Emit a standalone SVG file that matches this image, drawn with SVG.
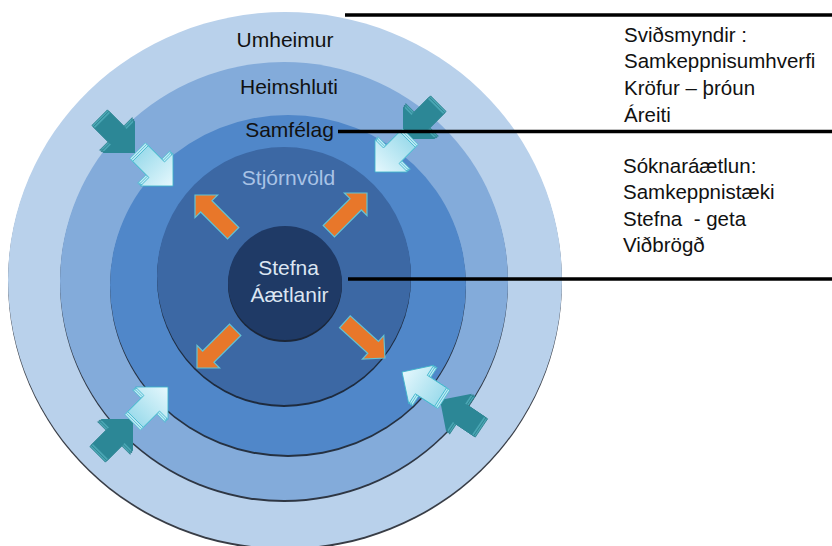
<svg xmlns="http://www.w3.org/2000/svg" width="832" height="546" viewBox="0 0 832 546">
<style>
  .sh { fill: #151b26; opacity: 0.85; }
  .lbl { font-family: "Liberation Sans", Arial, sans-serif; font-size: 21px; text-anchor: middle; }
  .side { font-family: "Liberation Sans", Arial, sans-serif; font-size: 20.5px; fill: #111; white-space: pre; }
  .conn { stroke: #000; stroke-width: 3.5; fill: none; }
  .teal { fill: #2c8796; }
  .tealx { fill: #4aa6b4; stroke: #2a7f8c; stroke-width: 0.8; }
  .light { fill: url(#lightGrad); stroke: #3cb4ca; stroke-width: 0.8; }
  .lightx { fill: #bfeaf5; stroke: #4dbdd1; stroke-width: 0.8; }
  .orange { fill: #e8772a; stroke: #63c3d4; stroke-width: 1.2; }
</style>
<defs>
  <linearGradient id="lightGrad" x1="0" y1="0" x2="1" y2="0">
    <stop offset="0" stop-color="#9edcec"/>
    <stop offset="1" stop-color="#e6f8fd"/>
  </linearGradient>
  <path id="big" d="M0,0 L-23,-23 L-23,-11 L-46,-11 L-46,11 L-23,11 L-23,23 Z"/>
  <path id="small" d="M0,0 L-16,-16 L-16,-8 L-54,-8 L-54,8 L-16,8 L-16,16 Z"/>
</defs>

<rect width="832" height="546" fill="#ffffff"/>

<g id="ring-umheimur">
  <ellipse class="sh" cx="285" cy="282" rx="277" ry="268"/>
  <ellipse cx="285" cy="280" rx="277" ry="268" fill="#b9d1eb"/>
  <text class="lbl" x="285" y="47" fill="#111">Umheimur</text>
</g>
<g id="ring-heimshluti">
  <ellipse class="sh" cx="284" cy="283" rx="224" ry="219"/>
  <ellipse cx="284" cy="281" rx="224" ry="219" fill="#83abda"/>
  <text class="lbl" x="289" y="94" fill="#111">Heimshluti</text>
</g>
<g id="ring-samfelag">
  <ellipse class="sh" cx="288" cy="287" rx="178" ry="170"/>
  <ellipse cx="288" cy="285" rx="178" ry="170" fill="#5087c9"/>
  <text class="lbl" x="289.5" y="137" fill="#111">Samfélag</text>
</g>
<g id="ring-stjornvold">
  <ellipse class="sh" cx="284" cy="278" rx="127" ry="129"/>
  <ellipse cx="284" cy="276" rx="127" ry="129" fill="#3c68a4"/>
  <text class="lbl" x="288.5" y="185" fill="#a9c3e6">Stjórnvöld</text>
</g>
<g id="ring-stefna">
  <circle class="sh" cx="285" cy="285" r="57"/>
  <circle cx="285" cy="283" r="57" fill="#1f3a66"/>
  <text class="lbl" x="288.5" y="275" fill="#dce6f2">Stefna</text>
  <text class="lbl" x="289.5" y="302" fill="#dce6f2">Áætlanir</text>
</g>

<g id="arrows">
  <g transform="translate(135,153) rotate(45)">
    <use href="#big" class="tealx" x="-4"/><use href="#big" class="tealx" x="-2"/><use href="#big" class="teal"/>
  </g>
  <g transform="translate(403,139) rotate(135)">
    <use href="#big" class="tealx" x="-4"/><use href="#big" class="tealx" x="-2"/><use href="#big" class="teal"/>
  </g>
  <g transform="translate(133,419) rotate(-45)">
    <use href="#big" class="tealx" x="-4"/><use href="#big" class="tealx" x="-2"/><use href="#big" class="teal"/>
  </g>
  <g transform="translate(440,400) rotate(214)">
    <use href="#big" class="tealx" x="-4"/><use href="#big" class="tealx" x="-2"/><use href="#big" class="teal"/>
  </g>
  <g transform="translate(173,186) rotate(45)">
    <use href="#big" class="lightx" x="-4"/><use href="#big" class="lightx" x="-2"/><use href="#big" class="light"/>
  </g>
  <g transform="translate(375,172) rotate(135)">
    <use href="#big" class="lightx" x="-4"/><use href="#big" class="lightx" x="-2"/><use href="#big" class="light"/>
  </g>
  <g transform="translate(168,387) rotate(-45)">
    <use href="#big" class="lightx" x="-4"/><use href="#big" class="lightx" x="-2"/><use href="#big" class="light"/>
  </g>
  <g transform="translate(402,372) rotate(213)">
    <use href="#big" class="lightx" x="-4"/><use href="#big" class="lightx" x="-2"/><use href="#big" class="light"/>
  </g>
  <use href="#small" class="orange" transform="translate(195,195) rotate(225)"/>
  <use href="#small" class="orange" transform="translate(367,193) rotate(-45)"/>
  <use href="#small" class="orange" transform="translate(197,368) rotate(135)"/>
  <use href="#small" class="orange" transform="translate(385,358) rotate(42)"/>
</g>

<g id="connectors">
  <line class="conn" x1="345" y1="15" x2="832" y2="15"/>
  <line class="conn" x1="338" y1="131.5" x2="832" y2="131.5"/>
  <line class="conn" x1="348" y1="279" x2="832" y2="279"/>
</g>

<g id="text-svidsmyndir">
  <text class="side" x="624" y="42">Sviðsmyndir :</text>
  <text class="side" x="624" y="68">Samkeppnisumhverfi</text>
  <text class="side" x="624" y="95">Kröfur – þróun</text>
  <text class="side" x="624" y="122">Áreiti</text>
</g>
<g id="text-soknaraaetlun">
  <text class="side" x="623" y="173">Sóknaráætlun:</text>
  <text class="side" x="623" y="199">Samkeppnistæki</text>
  <text class="side" x="623" y="226" xml:space="preserve">Stefna  - geta</text>
  <text class="side" x="623" y="252">Viðbrögð</text>
</g>
</svg>
